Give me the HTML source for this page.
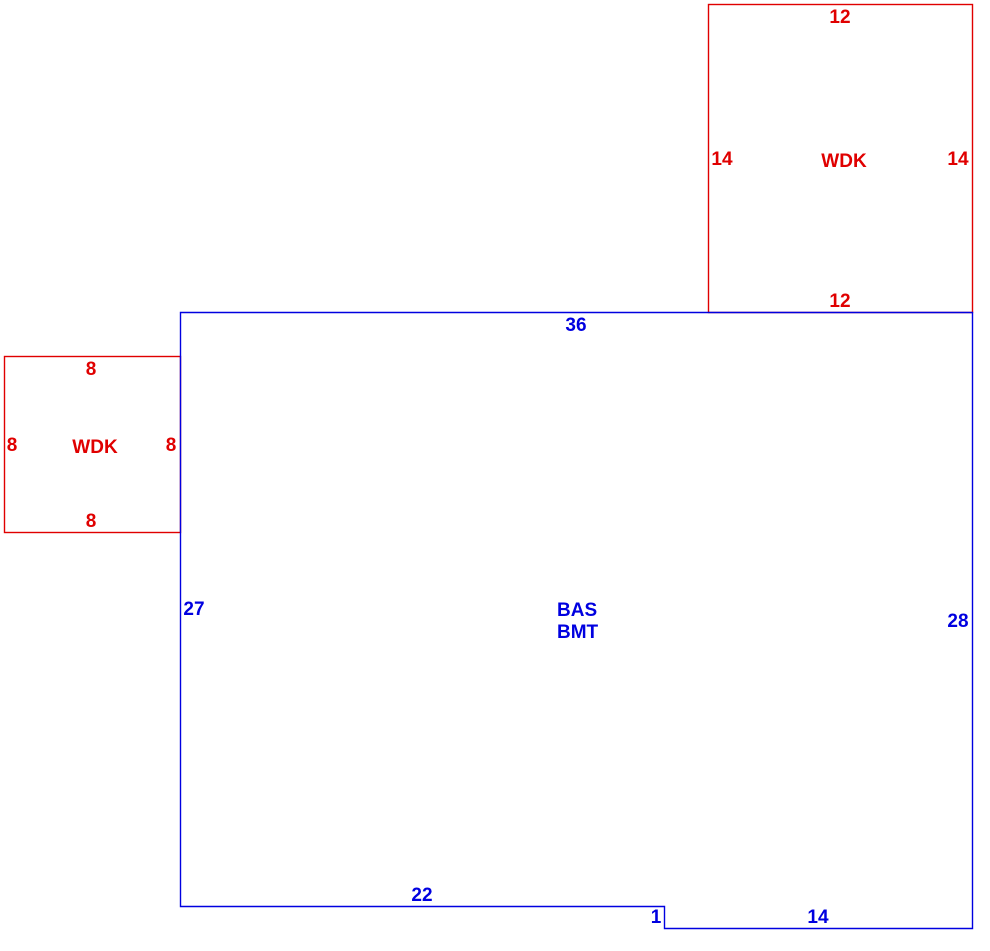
<!DOCTYPE html>
<html><head><meta charset="utf-8"><style>
html,body{margin:0;padding:0;background:#fff;width:990px;height:951px;overflow:hidden}
text{font-family:"Liberation Sans",Arial,sans-serif;font-size:19px;font-weight:bold;text-anchor:middle}
.r{fill:#e00000}.b{fill:#0000e0}
.l{text-anchor:start}
</style></head><body>
<svg width="990" height="951" viewBox="0 0 990 951" xmlns="http://www.w3.org/2000/svg">
<g fill="none" stroke-width="1.4">
<rect x="708.5" y="4.5" width="264" height="308" stroke="#e00000"/>
<rect x="4.5" y="356.5" width="176" height="176" stroke="#e00000"/>
<polygon points="180.5,312.5 972.5,312.5 972.5,928.5 664.5,928.5 664.5,906.5 180.5,906.5" stroke="#0000e0"/>
</g>
<text class="r" x="840" y="23">12</text>
<text class="r" x="722" y="165">14</text>
<text class="r" x="844" y="167">WDK</text>
<text class="r" x="958" y="165">14</text>
<text class="r" x="840" y="307">12</text>
<text class="b" x="576" y="331">36</text>
<text class="r" x="91" y="375">8</text>
<text class="r" x="12" y="451">8</text>
<text class="r" x="95" y="453">WDK</text>
<text class="r" x="171" y="451">8</text>
<text class="r" x="91" y="527">8</text>
<text class="b" x="194" y="615">27</text>
<text class="b l" x="557" y="616">BAS</text>
<text class="b l" x="557" y="638">BMT</text>
<text class="b" x="958" y="627">28</text>
<text class="b" x="422" y="901">22</text>
<text class="b" x="656" y="923">1</text>
<text class="b" x="818" y="923">14</text>
</svg>
</body></html>
